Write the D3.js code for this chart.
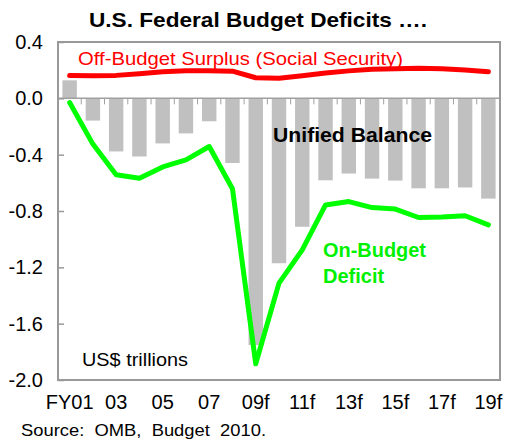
<!DOCTYPE html>
<html><head><meta charset="utf-8">
<script src="https://cdn.jsdelivr.net/npm/d3@7"></script>
<style>
html,body{margin:0;padding:0;background:#fff;}
svg{display:block;font-family:"Liberation Sans",Arial,sans-serif;}
</style></head>
<body><svg id="c" width="505" height="440"></svg>
<script>
const years = ["FY01","02","03","04","05","06","07","08","09f","10f","11f","12f","13f","14f","15f","16f","17f","18f","19f"];
const tickLabels = ["FY01","03","05","07","09f","11f","13f","15f","17f","19f"];
const unifiedBalance = [0.128,-0.158,-0.377,-0.413,-0.320,-0.249,-0.163,-0.459,-1.752,-1.171,-0.912,-0.582,-0.534,-0.570,-0.584,-0.639,-0.639,-0.633,-0.712];
const onBudget = [-0.030,-0.325,-0.542,-0.567,-0.487,-0.437,-0.342,-0.642,-1.885,-1.312,-1.076,-0.757,-0.733,-0.776,-0.786,-0.846,-0.842,-0.834,-0.898];
const offBudget = [0.162,0.160,0.163,0.174,0.188,0.195,0.195,0.193,0.146,0.143,0.160,0.180,0.195,0.206,0.210,0.213,0.210,0.202,0.188];
const yTicks = [0.4,0.0,-0.4,-0.8,-1.2,-1.6,-2.0];

const svg = d3.select("#c");
const L=58, R=500, T=42, B=380;
const x = d3.scaleBand().domain(years).range([L,R]).paddingInner(0.38).paddingOuter(0.19);
const xb = d3.scaleBand().domain(years).range([L,R]);
const y = d3.scaleLinear().domain([-2.0,0.4]).range([B,T]);

// bars
svg.append("g").selectAll("rect").data(years).join("rect")
  .attr("x",d=>x(d)).attr("width",x.bandwidth())
  .attr("y",(d,i)=>y(Math.max(0,unifiedBalance[i])))
  .attr("height",(d,i)=>Math.abs(y(unifiedBalance[i])-y(0)))
  .attr("fill","#c0c0c0");

// zero line with downward ticks
svg.append("line").attr("x1",L).attr("x2",R).attr("y1",y(0)).attr("y2",y(0))
  .attr("stroke","#a0a0a0").attr("stroke-width",1.5);
svg.append("g").selectAll("line").data(years.slice(1)).join("line")
  .attr("x1",d=>xb(d)).attr("x2",d=>xb(d)).attr("y1",y(0)).attr("y2",y(0)+6)
  .attr("stroke","#a0a0a0").attr("stroke-width",1);

// frame
svg.append("rect").attr("x",L).attr("y",T).attr("width",R-L).attr("height",B-T)
  .attr("fill","none").attr("stroke","#999").attr("stroke-width",2);

// y axis
const fmt = d => d3.format(".1f")(d).replace("−","-");
const yAxis = d3.axisLeft(y).tickValues(yTicks).tickSizeInner(-6).tickSizeOuter(0).tickPadding(15)
  .tickFormat(fmt);
const ya = svg.append("g").attr("transform",`translate(${L},0)`).call(yAxis);
ya.select(".domain").remove();
ya.selectAll(".tick line").attr("stroke","#999").attr("stroke-width",1.5);
ya.selectAll(".tick text").attr("font-size",20).attr("fill","#000").attr("font-family","Liberation Sans, Arial, sans-serif");

// x axis labels
const xAxis = d3.axisBottom(xb).tickValues(tickLabels).tickSize(0).tickPadding(15);
const xa = svg.append("g").attr("transform",`translate(0,${B})`).call(xAxis);
xa.select(".domain").remove();
xa.selectAll(".tick text").attr("font-size",20).attr("fill","#000").attr("font-family","Liberation Sans, Arial, sans-serif");

// lines
const line = arr => d3.line().x((d,i)=>xb(years[i])+xb.bandwidth()/2).y(d=>y(d)).curve(d3.curveLinear)(arr);
svg.append("path").attr("d",line(offBudget)).attr("fill","none").attr("stroke","#ff0000")
  .attr("stroke-width",5).attr("stroke-linecap","round").attr("stroke-linejoin","round");
svg.append("path").attr("d",line(onBudget)).attr("fill","none").attr("stroke","#00ff00")
  .attr("stroke-width",5).attr("stroke-linecap","round").attr("stroke-linejoin","round");

// texts
svg.append("text").attr("x",89).attr("y",27)
  .attr("font-size",21).attr("font-weight","bold")
  .attr("textLength",338).attr("lengthAdjust","spacingAndGlyphs").text("U.S. Federal Budget Deficits ….");
svg.append("text").attr("x",78).attr("y",65).attr("font-size",18.5).attr("fill","#ff0000")
  .attr("textLength",325).attr("lengthAdjust","spacingAndGlyphs")
  .text("Off-Budget Surplus (Social Security)");
svg.append("text").attr("x",273).attr("y",142).attr("font-size",20).attr("font-weight","bold")
  .attr("textLength",159).attr("lengthAdjust","spacingAndGlyphs")
  .text("Unified Balance");
svg.append("text").attr("x",323).attr("y",257).attr("font-size",20).attr("font-weight","bold").attr("fill","#00f000")
  .attr("textLength",103).attr("lengthAdjust","spacingAndGlyphs")
  .text("On-Budget");
svg.append("text").attr("x",323).attr("y",283).attr("font-size",20).attr("font-weight","bold").attr("fill","#00f000")
  .text("Deficit");
svg.append("text").attr("x",82).attr("y",366).attr("font-size",17.5)
  .attr("textLength",106).attr("lengthAdjust","spacingAndGlyphs").text("US$ trillions");
svg.append("text").attr("x",21).attr("y",436).attr("font-size",17).attr("xml:space","preserve")
  .attr("textLength",245).attr("lengthAdjust","spacingAndGlyphs")
  .style("white-space","pre").text("Source:  OMB,  Budget  2010.");
</script></body></html>
